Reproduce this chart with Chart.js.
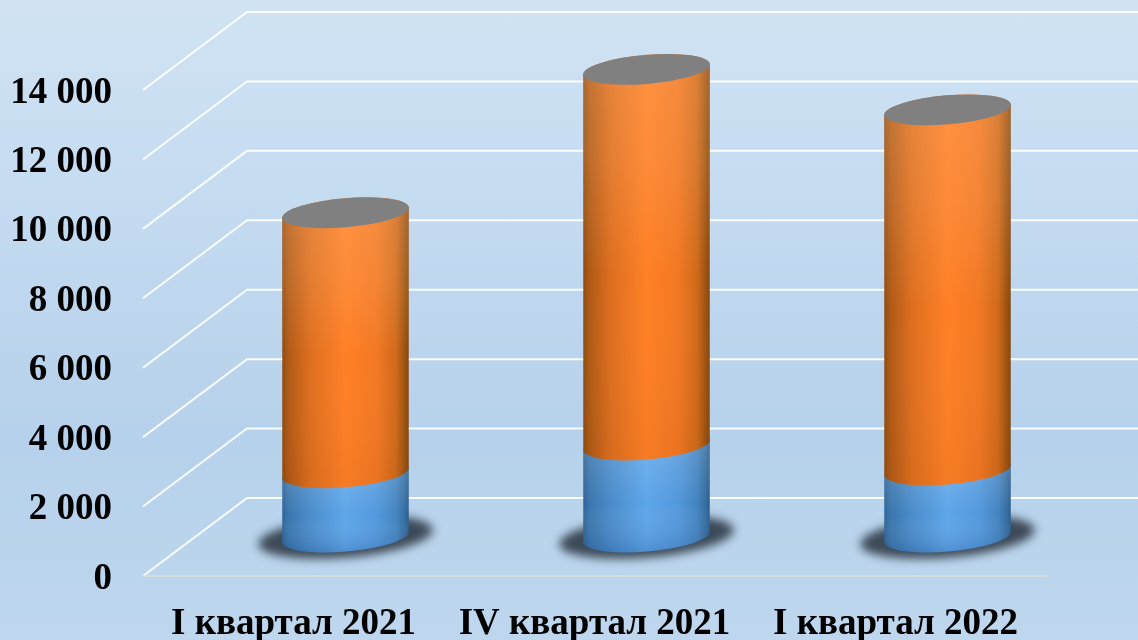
<!DOCTYPE html>
<html>
<head>
<meta charset="utf-8">
<script src="https://cdn.jsdelivr.net/npm/chart.js@4/dist/chart.umd.min.js"></script>
<style>
  html, body { margin: 0; padding: 0; width: 1138px; height: 640px; overflow: hidden; }
  body { background: linear-gradient(180deg, #d1e3f3 0%, #c6dcf1 28%, #b6d1eb 68%, #bed7ee 100%); }
  canvas { display: block; }
</style>
</head>
<body>
<canvas id="quarterChart" width="1138" height="640"></canvas>
<script>
const categories = ["I квартал 2021", "IV квартал 2021", "I квартал 2022"];
const blueValues = [1850, 2650, 1930];
const orangeValues = [7490, 10820, 10375];

// depth of the fake 3D floor
const DEPTH_X = 104;
const DEPTH_Y = 78;

function wallGrid(chart) {
  const ctx = chart.ctx;
  const y = chart.scales.y;
  const left = chart.chartArea.left;
  const right = chart.chartArea.right;

  ctx.save();
  ctx.strokeStyle = "rgba(255,255,255,0.92)";
  ctx.lineWidth = 2;
  y.ticks.forEach(t => {
    const py = y.getPixelForValue(t.value);
    ctx.beginPath();
    ctx.moveTo(left, py);
    ctx.lineTo(left + DEPTH_X, py - DEPTH_Y);
    ctx.lineTo(chart.width, py - DEPTH_Y);
    ctx.stroke();
  });
  // floor front edge
  ctx.strokeStyle = "#dfdcd6";
  ctx.lineWidth = 1.5;
  ctx.beginPath();
  ctx.moveTo(left, y.getPixelForValue(0));
  ctx.lineTo(right + 1, y.getPixelForValue(0));
  ctx.stroke();
  ctx.restore();
}

function horizontalShade(ctx, x0, x1, stops) {
  const g = ctx.createLinearGradient(x0, 0, x1, 0);
  stops.forEach(s => g.addColorStop(s[0], s[1]));
  return g;
}

const orangeStops = [[0, "#8f4c14"], [0.05, "#b05a16"], [0.22, "#de6f1f"], [0.5, "#ff8026"], [0.75, "#f27823"], [0.9, "#cf6a1b"], [0.97, "#9a5211"], [1, "#854710"]];
const blueStops = [[0, "#2f6496"], [0.05, "#3a76ad"], [0.22, "#4a8ccb"], [0.5, "#5da6ea"], [0.75, "#5298dc"], [0.9, "#4384c0"], [0.97, "#356c9f"], [1, "#2b5c8c"]];

function cylinderPath(ctx, cx, yBottom, yTop, a, b, rot, t0) {
  ctx.beginPath();
  ctx.ellipse(cx, yBottom, a, b, rot, t0, t0 + Math.PI, false);
  ctx.ellipse(cx, yTop, a, b, rot, t0 + Math.PI, t0 + 2 * Math.PI, false);
  ctx.closePath();
}

function drawCylinders(chart) {
  const ctx = chart.ctx;
  const rot = -0.085;
  const blue = chart.getDatasetMeta(0).data;
  const orange = chart.getDatasetMeta(1).data;

  categories.forEach((c, i) => {
    const bb = blue[i].getProps(["x", "y", "base", "width"]);
    const ob = orange[i].getProps(["x", "y", "base", "width"]);
    const cx = bb.x + DEPTH_X / 2;
    const halfW = bb.width / 2;
    const a = halfW * 1.004;
    const b = halfW * 0.23;
    const t0 = Math.atan((b * Math.sin(-rot)) / (a * Math.cos(rot)));
    const yBase = bb.base - DEPTH_Y / 2;
    const yBlue = bb.y - DEPTH_Y / 2;
    const yTop = ob.y - DEPTH_Y / 2;
    const x0 = cx - halfW;
    const x1 = cx + halfW;

    // floor shadow
    ctx.save();
    ctx.filter = "blur(5px)";
    ctx.fillStyle = "rgba(50,62,75,0.92)";
    ctx.beginPath();
    ctx.ellipse(cx, yBase, a * 1.38, b * 1.42, rot, 0, Math.PI * 2);
    ctx.fill();
    ctx.restore();

    // blue part
    ctx.save();
    cylinderPath(ctx, cx, yBase, yBlue, a, b, rot, t0);
    ctx.fillStyle = horizontalShade(ctx, x0, x1, blueStops);
    ctx.fill();
    ctx.clip();
    let v = ctx.createLinearGradient(0, yBlue, 0, yBase + b);
    v.addColorStop(0, "rgba(255,255,255,0.14)");
    v.addColorStop(0.55, "rgba(255,255,255,0)");
    v.addColorStop(1, "rgba(0,30,90,0.16)");
    ctx.fillStyle = v;
    ctx.fillRect(x0, yBlue - 30, bb.width, yBase - yBlue + 60);
    ctx.restore();

    // orange part
    ctx.save();
    cylinderPath(ctx, cx, yBlue, yTop, a, b, rot, t0);
    ctx.fillStyle = horizontalShade(ctx, x0, x1, orangeStops);
    ctx.fill();
    ctx.clip();
    v = ctx.createLinearGradient(0, yTop, 0, yBlue);
    v.addColorStop(0, "rgba(255,200,150,0.24)");
    v.addColorStop(0.25, "rgba(255,200,150,0.16)");
    v.addColorStop(0.55, "rgba(255,200,150,0)");
    v.addColorStop(1, "rgba(120,50,0,0.06)");
    ctx.fillStyle = v;
    ctx.fillRect(x0, yTop - 30, bb.width, yBlue - yTop + 60);
    ctx.restore();

    // top face
    ctx.fillStyle = "#808080";
    ctx.beginPath();
    ctx.ellipse(cx, yTop, a, b, rot, 0, Math.PI * 2);
    ctx.fill();
  });
}

const cylinderPlugin = {
  id: "cylinders",
  beforeDatasetsDraw: wallGrid,
  afterDatasetsDraw: drawCylinders
};

new Chart(document.getElementById("quarterChart").getContext("2d"), {
  type: "bar",
  data: {
    labels: categories,
    datasets: [
      { label: "Ряд 1", data: blueValues, backgroundColor: "transparent" },
      { label: "Ряд 2", data: orangeValues, backgroundColor: "transparent" }
    ]
  },
  options: {
    responsive: false,
    animation: false,
    layout: { padding: { top: 90, right: 92, left: 0, bottom: 0 } },
    datasets: { bar: { categoryPercentage: 1, barPercentage: 0.42 } },
    plugins: {
      legend: { display: false },
      title: { display: false },
      tooltip: { enabled: false }
    },
    scales: {
      x: {
        stacked: true,
        grid: { display: false },
        border: { display: false },
        ticks: {
          color: "#000",
          padding: 18,
          maxRotation: 0,
          autoSkip: false,
          font: { family: "'Liberation Serif'", weight: "bold", size: 37 }
        },
        afterFit: s => { s.height = 64; }
      },
      y: {
        stacked: true,
        min: 0,
        max: 14000,
        grid: { display: false },
        border: { display: false },
        ticks: {
          stepSize: 2000,
          color: "#000",
          padding: 23,
          font: { family: "'Liberation Serif'", weight: "bold", size: 37 },
          callback: v => String(v).replace(/\B(?=(\d{3})+$)/g, " ")
        },
        afterFit: s => {
          s.width = 143;
          // labels sit a little lower than the library's middle baseline
          if (!s._labelShift) {
            const compute = s._computeLabelItems;
            s._computeLabelItems = function (area) {
              const items = compute.call(this, area);
              items.forEach(it => { it.options.translation[1] += 3; });
              return items;
            };
            s._labelShift = true;
          }
        }
      }
    }
  },
  plugins: [cylinderPlugin]
});
</script>
</body>
</html>
